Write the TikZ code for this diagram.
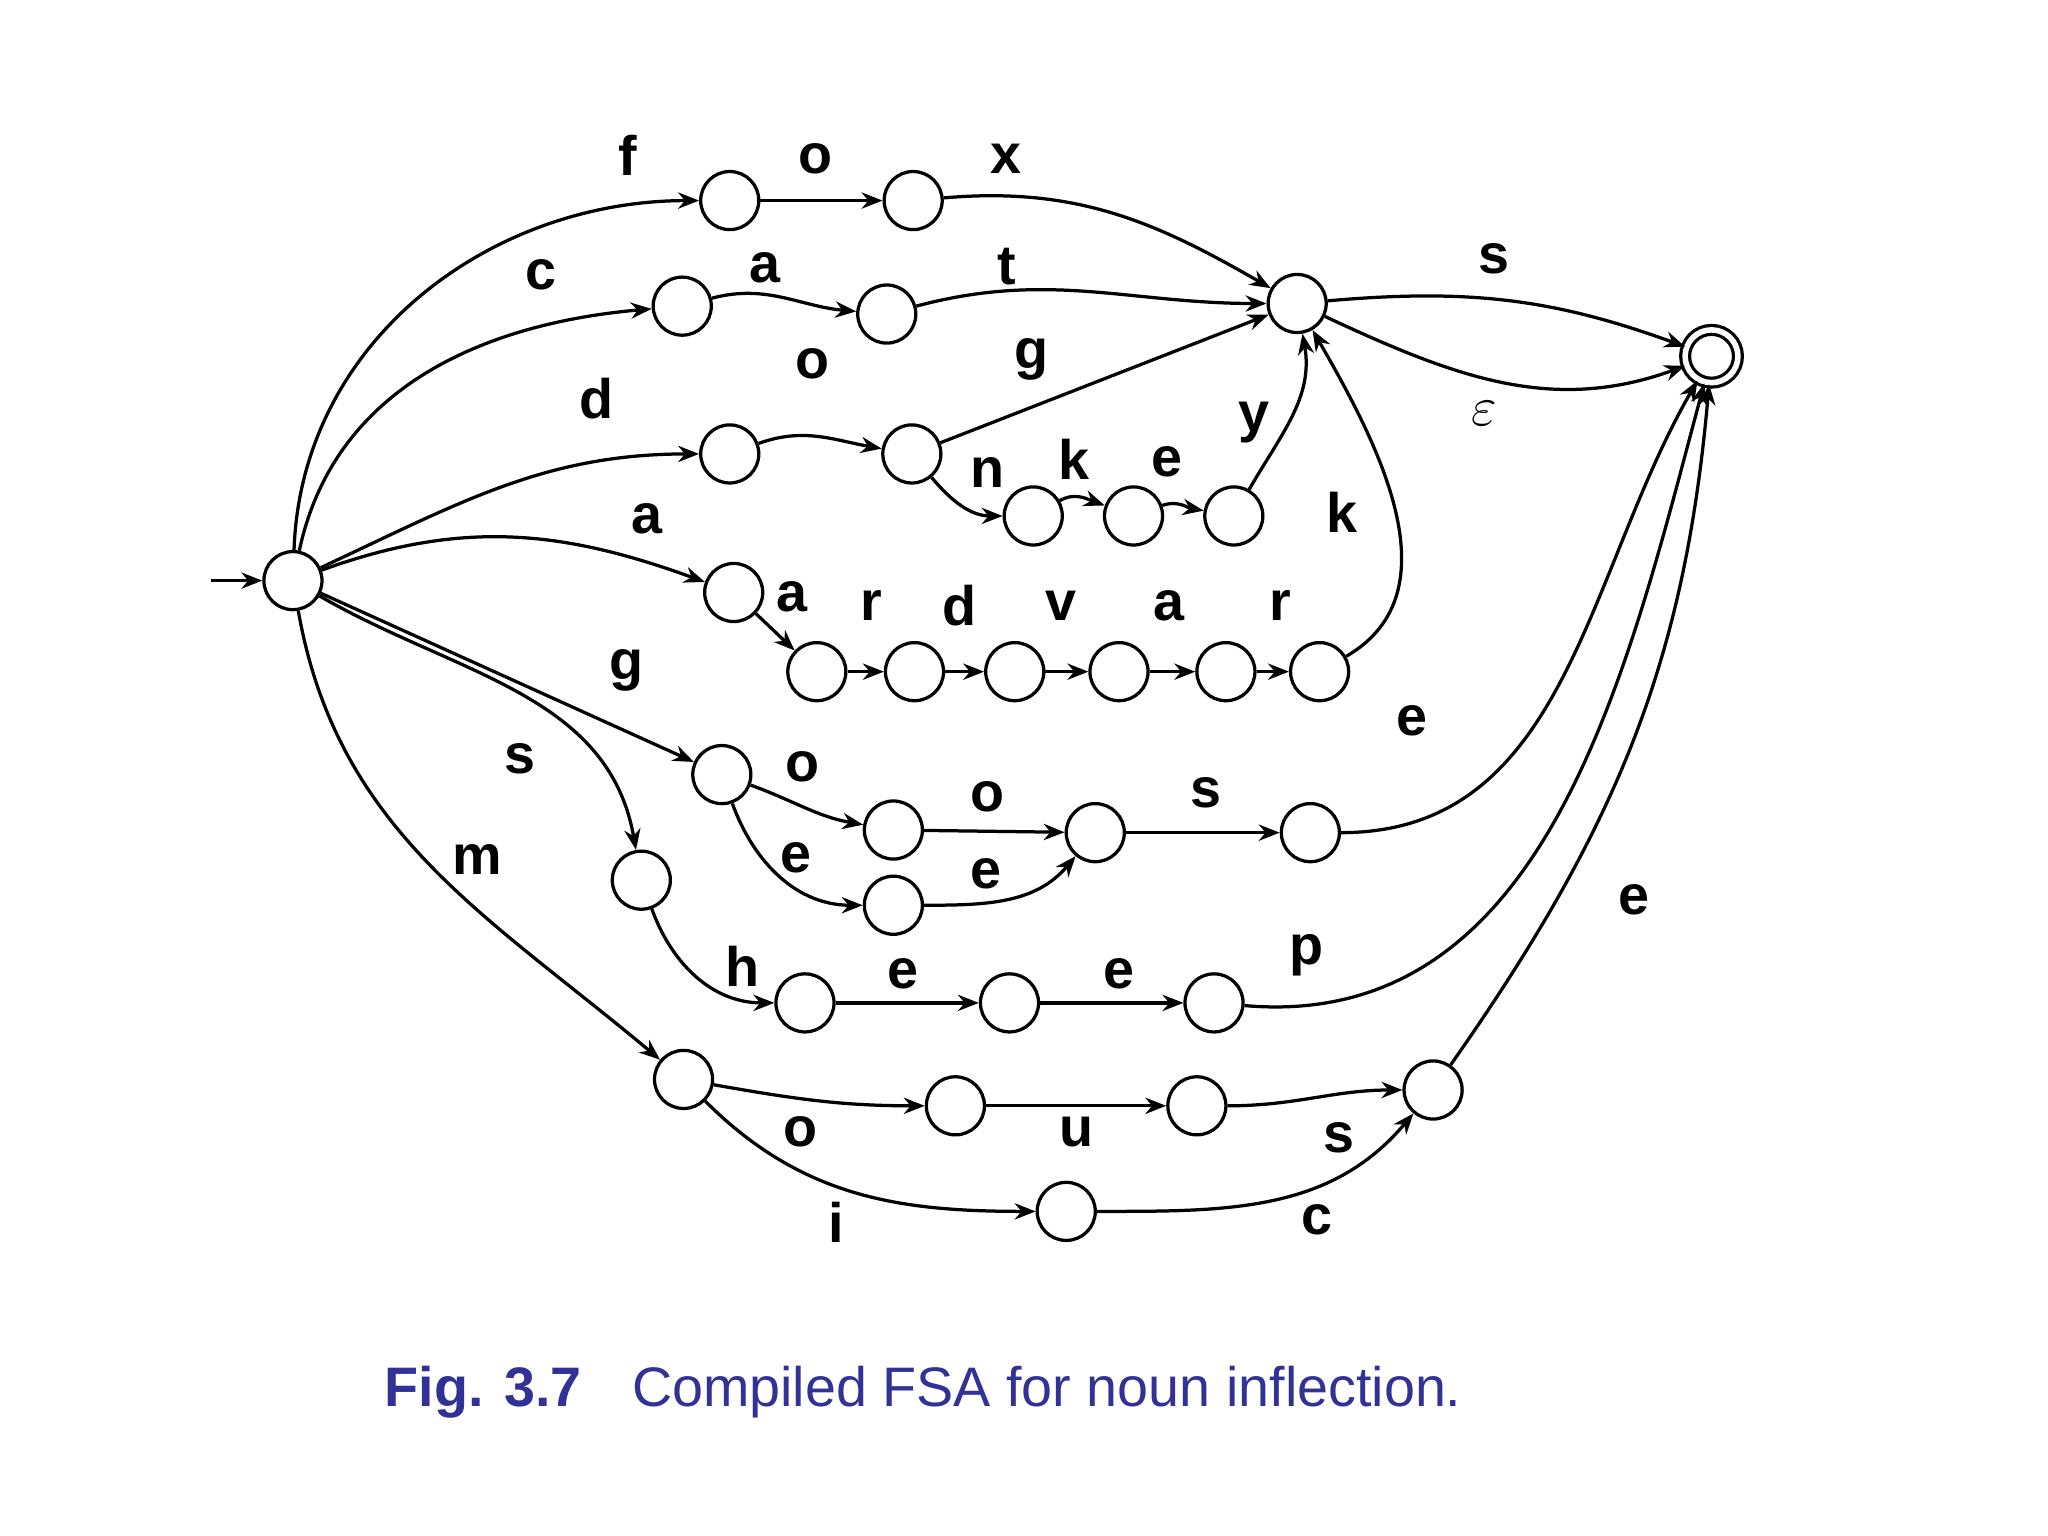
\documentclass[tikz,border=0pt]{standalone}
\usepackage{fontspec}
\setmainfont{Liberation Sans}
\usetikzlibrary{arrows.meta}
\definecolor{cap}{RGB}{50,50,150}
\begin{document}
\begin{tikzpicture}[x=0.01cm,y=-0.01cm,
  st/.style={circle,draw,line width=0.7pt,minimum size=0.44cm,inner sep=0pt},
  fin/.style={st,double,double distance=1.2pt,minimum size=0.4cm},
  e/.style={-{Stealth[length=4.5pt,width=3.5pt]},line width=0.7pt},
  l/.style={font=\fontsize{12}{12}\bfseries\selectfont,inner sep=0pt}]
\useasboundingbox (0,0) rectangle (1552,1164);
\node[st] (S) at (222,440) {};
\coordinate (in) at (160,440);
\node[st] (f1) at (553,152) {}; \node[st] (f2) at (692,152) {};
\node[st] (c1) at (517,232) {}; \node[st] (c2) at (672,238) {};
\node[st] (d1) at (553,344) {}; \node[st] (d2) at (691,344) {};
\node[st] (Q) at (983,230) {};
\node[fin] (F) at (1297,270) {};
\node[st] (n1) at (783,391) {}; \node[st] (n2) at (859,391) {}; \node[st] (n3) at (935,391) {};
\node[st] (a1) at (556,449) {};
\node[st] (r1) at (619,509) {}; \node[st] (r2) at (693,509) {}; \node[st] (r3) at (769,509) {};
\node[st] (r4) at (848,509) {}; \node[st] (r5) at (929,509) {}; \node[st] (r6) at (1000,509) {};
\node[st] (g1) at (547,587) {}; \node[st] (go) at (677,629) {}; \node[st] (goo) at (830,631) {};
\node[st] (ge) at (677,686) {}; \node[st] (gs) at (993,631) {};
\node[st] (s1) at (486,667) {}; \node[st] (h1) at (610,760) {}; \node[st] (h2) at (765,760) {}; \node[st] (h3) at (920,760) {};
\node[st] (m1) at (518,818) {}; \node[st] (mo1) at (724,838) {}; \node[st] (mo2) at (907,838) {};
\node[st] (mi) at (808,918) {}; \node[st] (ms) at (1086,826) {};

\draw[e] (in) -- (S);
\draw[e] (S) to[out=88,in=180] (f1);
\draw[e] (f1) -- (f2);
\draw[e] (f2) to[out=5,in=150] (Q);
\draw[e] (S) to[out=78,in=185] (c1);
\draw[e] (c1) to[out=15,in=175] (c2);
\draw[e] (c2) to[out=15,in=180] (Q);
\draw[e] (S) to[out=25,in=180] (d1);
\draw[e] (d1) to[out=20,in=170] (d2);
\draw[e] (d2) -- (Q);
\draw[e] (d2) to[out=-50,in=180] (n1);
\draw[e] (n1) to[out=30,in=160] (n2);
\draw[e] (n2) to[out=20,in=170] (n3);
\draw[e] (n3) to[out=60,in=-80] (Q);
\draw[e] (S) to[out=20,in=160] (a1);
\draw[e] (a1) -- (r1);
\draw[e] (r1) -- (r2); \draw[e] (r2) -- (r3); \draw[e] (r3) -- (r4);
\draw[e] (r4) -- (r5); \draw[e] (r5) -- (r6);
\draw[e] (r6) to[out=30,in=-60] (Q);
\draw[e] (Q) to[out=5,in=160] (F);
\draw[e] (Q) to[out=-25,in=-160] (F);
\draw[e] (S) -- (g1);
\draw[e] (g1) to[out=-20,in=170] (go);
\draw[e] (go) -- (goo);
\draw[e] (g1) to[out=-70,in=180] (ge);
\draw[e] (ge) to[out=0,in=-130] (goo);
\draw[e] (goo) -- (gs);
\draw[e] (gs) to[out=0,in=-120] (F);
\draw[e] (S) to[out=-30,in=100] (s1);
\draw[e] (s1) to[out=-70,in=180] (h1);
\draw[e] (h1) -- (h2);
\draw[e] (h2) -- (h3);
\draw[e] (h3) to[out=-5,in=-105] (F);
\draw[e] (S) to[out=-80,in=140] (m1);
\draw[e] (m1) to[out=-10,in=180] (mo1);
\draw[e] (mo1) -- (mo2);
\draw[e] (mo2) to[out=0,in=180] (ms);
\draw[e] (m1) to[out=-45,in=180] (mi);
\draw[e] (mi) to[out=0,in=-130] (ms);
\draw[e] (ms) to[out=55,in=-95] (F);

\node[l] at (476,118) {f}; \node[l] at (618,120) {o}; \node[l] at (762,120) {x};
\node[l] at (410,208) {c}; \node[l] at (580,203) {a}; \node[l] at (763,202) {t};
\node[l] at (452,302) {d}; \node[l] at (616,276) {o}; \node[l] at (782,272) {g};
\node[l] at (748,358) {n}; \node[l] at (814,348) {k}; \node[l] at (884,350) {e}; \node[l] at (950,320) {y};
\node[l] at (490,393) {a}; \node[l] at (600,452) {a}; \node[l] at (660,459) {r}; \node[l] at (727,459) {d};
\node[l] at (804,459) {v}; \node[l] at (886,459) {a}; \node[l] at (970,459) {r}; \node[l] at (1017,388) {k};
\node[l] at (1132,196) {s}; \node[font=\fontsize{13}{13}\selectfont\rmfamily] at (1125,313) {$\varepsilon$};
\node[l] at (475,508) {g}; \node[l] at (608,581) {o}; \node[l] at (748,604) {o}; \node[l] at (603,650) {e};
\node[l] at (747,662) {e}; \node[l] at (914,601) {s}; \node[l] at (1070,546) {e};
\node[l] at (394,575) {s}; \node[l] at (563,732) {h}; \node[l] at (684,738) {e}; \node[l] at (848,738) {e}; \node[l] at (990,724) {p};
\node[l] at (362,651) {m}; \node[l] at (607,858) {o}; \node[l] at (816,858) {u}; \node[l] at (1015,862) {s};
\node[l] at (634,926) {i}; \node[l] at (998,924) {c}; \node[l] at (1238,682) {e};

\node[anchor=west,text=cap,font=\fontsize{12}{12}\selectfont,inner sep=0pt] at (291,1055) {\textbf{Fig. 3.7}\hspace{0.9em}Compiled FSA for noun inflection.};
\end{tikzpicture}
\end{document}
